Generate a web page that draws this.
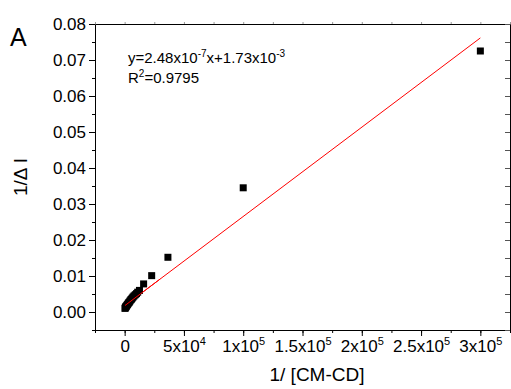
<!DOCTYPE html>
<html>
<head>
<meta charset="utf-8">
<script src="https://cdn.jsdelivr.net/npm/d3@7"></script>
<style>
  body { margin: 0; background: #fff; }
  svg { font-family: "Liberation Sans", Arial, sans-serif; }
</style>
</head>
<body>
<div class="chart"></div>
<script>
// measured points (x = 1/[CM-CD], y = 1/ΔI)
const xValues = [300, 600, 900, 1200, 1500, 2000, 2500, 3000, 3500, 4000, 4600, 5200, 5800,
  6500, 7200, 8000, 9000, 10000, 11000, 12500, 16000, 22800, 36500, 100000, 300000];
const yValues = [0.0010, 0.0012, 0.0014, 0.0015, 0.0017, 0.0019, 0.0021, 0.0024, 0.0026,
  0.0028, 0.0031, 0.0034, 0.0036, 0.0039, 0.0042, 0.0045, 0.0048, 0.0051, 0.0055, 0.0060,
  0.0078, 0.0101, 0.0152, 0.0345, 0.0725];
const fitSlope = 2.48e-7;
const fitIntercept = 1.73e-3;
const yTicks = [0, 0.01, 0.02, 0.03, 0.04, 0.05, 0.06, 0.07, 0.08];
const xTicks = [0, 50000, 100000, 150000, 200000, 250000, 300000];
const xTickLabels = [['0', ''], ['5x10', '4'], ['1x10', '5'], ['1.5x10', '5'], ['2x10', '5'], ['2.5x10', '5'], ['3x10', '5']];

const d3c = d3;
const W = 511, H = 389;
const margin = { top: 24, right: 1, bottom: 59, left: 95 };
const width = W - margin.left - margin.right;
const height = H - margin.top - margin.bottom;

const svg = d3c.select('.chart')
  .append('svg')
    .attr('width', W)
    .attr('height', H);
const g = svg.append('g')
    .attr('transform', 'translate(' + margin.left + ',' + margin.top + ')');

const xScale = d3c.scaleLinear().domain([-25000, 325000]).range([0, width]);
const yScale = d3c.scaleLinear().domain([-0.005, 0.08]).range([height, 0]);

const xMinor = d3c.range(-25000, 325001, 25000);
const yMinor = d3c.range(-0.005, 0.0801, 0.005);

// bottom axis
g.append('g')
    .attr('transform', `translate(0, ${height})`)
    .call(d3c.axisBottom(xScale).tickValues(xMinor).tickSize(3).tickFormat(''))
    .call(a => a.select('.domain').remove());
const xAx = g.append('g')
    .attr('transform', `translate(0, ${height})`)
    .call(d3c.axisBottom(xScale).tickValues(xTicks).tickSize(6).tickSizeOuter(0).tickFormat(''));
xAx.selectAll('.tick').each(function (d, i) {
  const t = d3c.select(this).append('text')
      .attr('y', 22)
      .attr('fill', '#000')
      .style('font-size', '17px')
      .attr('text-anchor', 'middle');
  t.append('tspan').text(xTickLabels[i][0]);
  if (xTickLabels[i][1]) {
    t.append('tspan').attr('dy', -7).style('font-size', '11px').text(xTickLabels[i][1]);
  }
});

// left axis
g.append('g')
    .call(d3c.axisLeft(yScale).tickValues(yMinor).tickSize(3).tickFormat(''))
    .call(a => a.select('.domain').remove());
g.append('g')
    .call(d3c.axisLeft(yScale).tickValues(yTicks).tickSize(6).tickSizeOuter(0).tickPadding(3)
      .tickFormat(d3c.format('.2f')))
    .selectAll('text')
      .style('font-size', '17px')
      .attr('fill', '#000');

// top axis
g.append('g')
    .call(d3c.axisTop(xScale).tickValues(xMinor).tickSize(2).tickSizeOuter(0).tickFormat(''))
    .selectAll('.tick line').attr('stroke', '#999');
// right axis
g.append('g')
    .attr('transform', `translate(${width}, 0)`)
    .call(d3c.axisRight(yScale).tickValues(yMinor).tickSize(-5).tickSizeOuter(0).tickFormat(''))
    .selectAll('.tick line').attr('stroke', '#555');

g.selectAll('.domain').attr('stroke', '#000');

// fit line
g.append('line')
    .attr('x1', xScale(xValues[0]))
    .attr('y1', yScale(fitSlope * xValues[0] + fitIntercept))
    .attr('x2', xScale(xValues[xValues.length - 1]))
    .attr('y2', yScale(fitSlope * xValues[xValues.length - 1] + fitIntercept))
    .attr('stroke', '#ff0000')
    .attr('stroke-width', 1);

// points
const m = 7;
g.selectAll('rect.pt')
    .data(xValues.map((x, i) => ({ x: x, y: yValues[i] })))
    .enter()
    .append('rect')
    .attr('class', 'pt')
    .attr('x', d => xScale(d.x) - m / 2)
    .attr('y', d => yScale(d.y) - m / 2)
    .attr('width', m)
    .attr('height', m)
    .attr('fill', '#000');

// fit line stays on top of the cluster
g.append('line')
    .attr('x1', xScale(xValues[0]))
    .attr('y1', yScale(fitSlope * xValues[0] + fitIntercept))
    .attr('x2', xScale(30000))
    .attr('y2', yScale(fitSlope * 30000 + fitIntercept))
    .attr('stroke', '#ff0000')
    .attr('stroke-width', 1);

// equation
const eq = svg.append('text')
    .attr('x', 128)
    .attr('y', 63)
    .style('font-size', '15px');
eq.append('tspan').text('y=2.48x10');
eq.append('tspan').attr('dy', -6).style('font-size', '10px').text('-7');
eq.append('tspan').attr('dy', 6).text('x+1.73x10');
eq.append('tspan').attr('dy', -6).style('font-size', '10px').text('-3');
const r2 = svg.append('text')
    .attr('x', 128)
    .attr('y', 83)
    .style('font-size', '15px');
r2.append('tspan').text('R');
r2.append('tspan').attr('dy', -6).style('font-size', '10px').text('2');
r2.append('tspan').attr('dy', 6).text('=0.9795');

// panel letter
svg.append('text')
    .attr('x', 10)
    .attr('y', 46)
    .style('font-size', '25px')
    .text('A');

// axis titles
svg.append('text')
    .attr('x', 317)
    .attr('y', 381)
    .attr('text-anchor', 'middle')
    .style('font-size', '19px')
    .text('1/ [CM-CD]');
svg.append('text')
    .attr('transform', 'translate(27, 177) rotate(-90)')
    .attr('text-anchor', 'middle')
    .style('font-size', '19px')
    .text('1/\u0394 I');
</script>
</body>
</html>
